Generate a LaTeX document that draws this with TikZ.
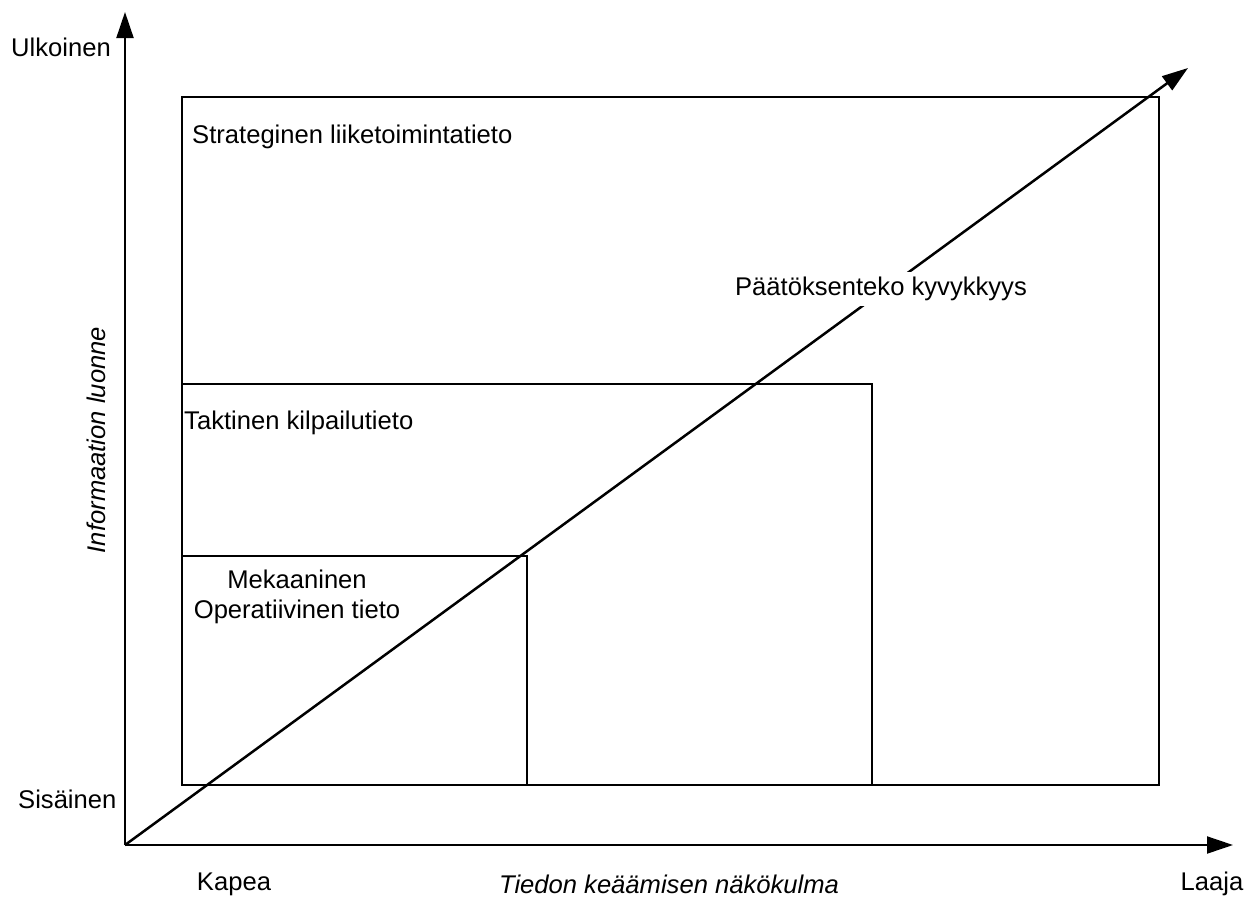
\documentclass[tikz,border=0pt]{standalone}
\usepackage{fontspec}
\setmainfont{Liberation Sans}
\usetikzlibrary{arrows.meta}
\begin{document}
\begin{tikzpicture}[x=1pt,y=-1pt,
  lbl/.style={font=\fontsize{25.6}{30}\selectfont, inner sep=0pt},
  ilbl/.style={lbl, font=\fontsize{25.6}{30}\selectfont\itshape},
  axis/.style={line width=2pt, -{Triangle[length=26pt,width=17pt]}},
  frame/.style={line width=2pt},
]
\useasboundingbox (0,0) rectangle (1259,898);

% nested information levels
\draw[frame] (182,97) rectangle (1159,785);
\draw[frame] (182,384) rectangle (872,785);
\draw[frame] (182,556) rectangle (527,785);

% axes
\coordinate (O) at (125,845);
\coordinate (ytip) at (125,12);
\coordinate (xtip) at (1233,845);
\coordinate (dtip) at (1188,68);
\draw[axis] (O) -- (ytip);
\draw[axis] (O) -- (xtip);
\draw[axis, line width=2.5pt] (O) -- (dtip);

% axis labels
\node[lbl, anchor=west] (ulk) at (11,47) {Ulkoinen};
\node[lbl, anchor=west] (sis) at (18,799) {Sisäinen};
\node[lbl] (kap) at (234,884) {Kapea};
\node[ilbl] (nak) at (669,884) {Tiedon keäämisen näkökulma};
\node[lbl] (laa) at (1212,884) {Laaja};
\node[ilbl, rotate=90] (luo) at (96,440) {Informaation luonne};

% level labels
\node[lbl, anchor=west] (str) at (192,137) {Strateginen liiketoimintatieto};
\node[lbl, anchor=west] (tak) at (184,423) {Taktinen kilpailutieto};
\node[lbl, align=center] (mek) at (297,597) {Mekaaninen\\Operatiivinen tieto};
\node[lbl, fill=white, inner xsep=2pt, inner ysep=5pt] (paa) at (881,289) {Päätöksenteko kyvykkyys};
\end{tikzpicture}
\end{document}
